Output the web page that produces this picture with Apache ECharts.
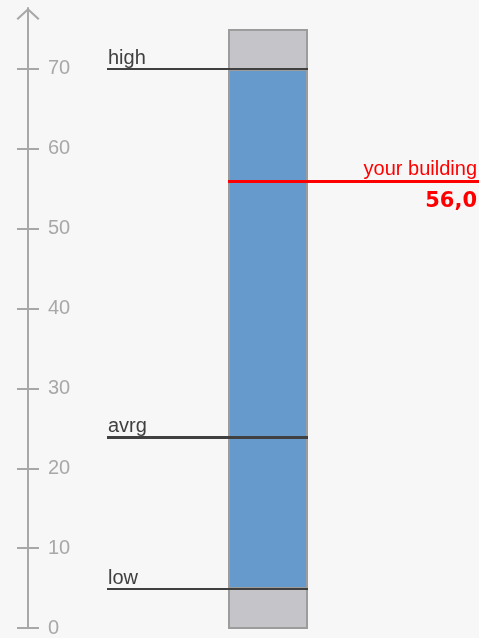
<!DOCTYPE html>
<html>
<head>
<meta charset="utf-8">
<script src="https://cdn.jsdelivr.net/npm/echarts@6/dist/echarts.min.js"></script>
<style>
  html, body { margin: 0; padding: 0; background: #f7f7f7; }
  #chart { width: 479px; height: 638px; }
</style>
</head>
<body>
<div id="chart"></div>
<script>
// values
var tickValues = [0, 10, 20, 30, 40, 50, 60, 70];
var scaleTop = 75;
var refNames = ['high', 'avrg', 'low'];
var refValues = [70, 24, 5];
var yourLabel = 'your building';
var yourValue = 56;

var low = refValues[2];
var high = refValues[0];

var chartDom = document.getElementById('chart');
var myChart = echarts.init(chartDom);

var axisGrey = '#a8a8a8';
var yMax = 77.625;
var font = '"Liberation Sans", Arial, sans-serif';

// grids: 0 axis, 1 reference lines, 2 bar, 3 your building line
var grids = [
    { left: 28, right: 450, top: 8, bottom: 9 },
    { left: 107, right: 171, top: 8, bottom: 9 },
    { left: 228, right: 171, top: 8, bottom: 9 },
    { left: 228, right: 0, top: 8, bottom: 9 }
];

var xAxes = grids.map(function (g, i) {
    return { type: 'category', gridIndex: i, data: [''], show: false };
});

var hiddenY = function (i) {
    return { type: 'value', gridIndex: i, min: 0, max: yMax, show: false };
};

var yAxes = [
    {
        type: 'value', gridIndex: 0, position: 'left', min: 0, max: yMax,
        axisLine: {
            show: true,
            lineStyle: { color: axisGrey, width: 2 },
            symbol: ['none', 'path://M11 0 L22 10 L20.6 11.4 L11 2.6 L1.4 11.4 L0 10 Z'],
            symbolSize: [23, 12],
            symbolOffset: [0, -6]
        },
        axisTick: { show: true, length: 11, lineStyle: { color: axisGrey, width: 2 }, customValues: tickValues },
        axisLabel: {
            inside: true, margin: 20, color: axisGrey, fontSize: 20, fontFamily: font,
            customValues: tickValues
        },
        splitLine: { show: false }
    },
    {
        type: 'value', gridIndex: 0, position: 'left', offset: 0, min: 0, max: yMax,
        axisLine: { show: false },
        axisTick: { show: true, inside: true, length: 11, lineStyle: { color: axisGrey, width: 2 }, customValues: tickValues },
        axisLabel: { show: false },
        splitLine: { show: false }
    },
    hiddenY(1),
    hiddenY(2),
    hiddenY(3)
];

var refLines = refNames.map(function (n, i) {
    return {
        name: n,
        yAxis: refValues[i],
        lineStyle: { width: n === 'avrg' ? 3 : 2 }
    };
});

var option = {
    backgroundColor: '#f7f7f7',
    animation: false,
    grid: grids,
    xAxis: xAxes,
    yAxis: yAxes,
    series: [
        {
            name: 'scale', type: 'bar', xAxisIndex: 2, yAxisIndex: 3,
            data: [scaleTop], barWidth: '100%', barGap: '-100%',
            itemStyle: { color: '#c5c4c8', borderColor: '#9c9c9c', borderWidth: 2 },
            silent: true
        },
        {
            name: 'base', type: 'bar', xAxisIndex: 2, yAxisIndex: 3, stack: 'range',
            data: [low], barWidth: '100%',
            itemStyle: { color: 'transparent' },
            silent: true
        },
        {
            name: 'range', type: 'bar', xAxisIndex: 2, yAxisIndex: 3, stack: 'range',
            data: [high - low], barWidth: '100%',
            itemStyle: { color: '#6699cc', borderColor: '#9c9c9c', borderWidth: 2 },
            silent: true
        },
        {
            name: 'refs', type: 'line', xAxisIndex: 1, yAxisIndex: 2,
            data: [], symbol: 'none',
            markLine: {
                silent: true,
                symbol: ['none', 'none'],
                lineStyle: { color: '#404040', type: 'solid' },
                label: {
                    position: 'insideStartTop', formatter: '{b}', distance: 1,
                    color: '#404040', fontSize: 20, fontFamily: font
                },
                emphasis: { disabled: true },
                data: refLines
            }
        },
        {
            name: 'yours', type: 'line', xAxisIndex: 3, yAxisIndex: 4,
            data: [], symbol: 'none',
            markLine: {
                silent: true,
                symbol: ['none', 'none'],
                lineStyle: { color: '#ff0000', width: 3, type: 'solid' },
                emphasis: { disabled: true },
                data: [
                    {
                        name: yourLabel, yAxis: yourValue,
                        label: {
                            position: 'insideEndTop', formatter: '{b}', distance: [2, 2],
                            color: '#ff0000', fontSize: 20, fontFamily: font
                        }
                    },
                    {
                        name: String(yourValue.toFixed(1)).replace('.', ','), yAxis: yourValue,
                        lineStyle: { color: 'transparent', width: 0 },
                        label: {
                            position: 'insideEndBottom', distance: [2, 10],
                            formatter: '{b}',
                            color: '#ff0000', fontSize: 21, fontWeight: 'bold', fontFamily: '"DejaVu Sans", sans-serif'
                        }
                    }
                ]
            }
        }
    ]
};

option && myChart.setOption(option);
</script>
</body>
</html>
